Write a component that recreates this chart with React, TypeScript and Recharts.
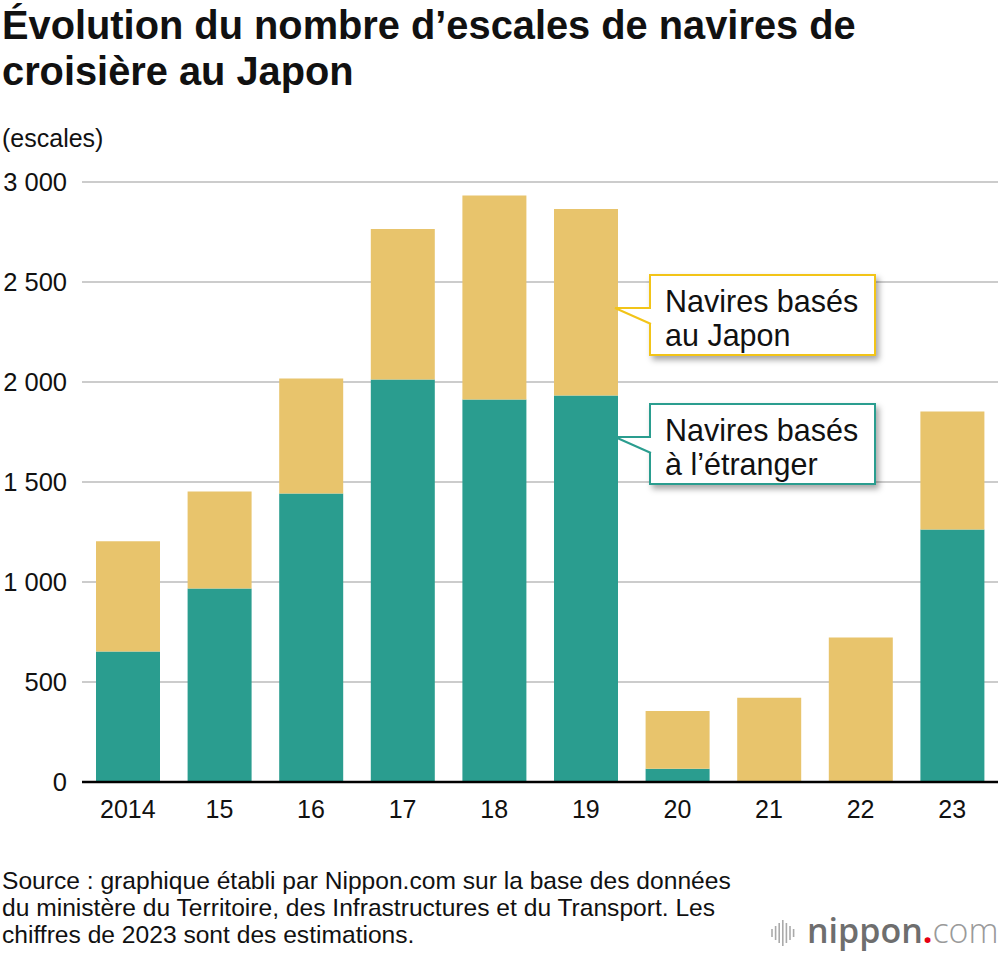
import React from 'react';
import { BarChart, Bar, XAxis, YAxis, CartesianGrid } from 'recharts';

const YEARS = ['2014', '15', '16', '17', '18', '19', '20', '21', '22', '23'];
const FOREIGN_BASED = [653, 967, 1443, 2013, 1913, 1933, 66, 0, 0, 1263];
const JAPAN_BASED = [551, 486, 574, 752, 1019, 932, 289, 421, 723, 590];
const Y_TICKS = [0, 500, 1000, 1500, 2000, 2500, 3000];

const TEAL = '#2a9d8f';
const SAND = '#e8c46c';
const FONT = '"Liberation Sans", Arial, Helvetica, sans-serif';

const data = YEARS.map((year, i) => ({
  year,
  foreign: FOREIGN_BASED[i],
  japan: JAPAN_BASED[i],
}));

const formatThousands = (v: number) => String(v).replace(/\B(?=(\d{3})+(?!\d))/g, ' ');

// callout box with a little pointer on its left side
function Callout({ top, color, lines }: { top: number; color: string; lines: string[] }) {
  return (
    <div style={{ position: 'absolute', left: 614, top, width: 268, height: 86 }}>
      <div
        style={{
          position: 'absolute',
          left: 35,
          top: 0,
          width: 227,
          height: 82,
          border: `2px solid ${color}`,
          background: '#fff',
          boxShadow: '3px 4px 6px rgba(0,0,0,0.35)',
          boxSizing: 'border-box',
          padding: '8px 0 0 14px',
          fontSize: 30.5,
          lineHeight: '34px',
          color: '#111',
          whiteSpace: 'nowrap',
        }}
      >
        {lines.map((l) => (
          <div key={l}>{l}</div>
        ))}
      </div>
      <svg width={40} height={86} style={{ position: 'absolute', left: 0, top: 0 }}>
        <polygon points="1,34 37,34 37,50" fill="#fff" />
        <polyline points="37,34 1,34 37,50" fill="none" stroke={color} strokeWidth={2} />
      </svg>
    </div>
  );
}

function Logo() {
  const waves = [8, 14, 20, 26, 20, 14, 8];
  return (
    <div style={{ position: 'absolute', left: 770, top: 908, width: 230, height: 48 }}>
      <svg width={30} height={48} style={{ position: 'absolute', left: 0, top: 0 }}>
        {waves.map((h, i) => (
          <line key={i} x1={2 + i * 3.6} x2={2 + i * 3.6} y1={25 - h / 2} y2={25 + h / 2} stroke="#aaa" strokeWidth={1.6} />
        ))}
      </svg>
      <div
        style={{
          position: 'absolute',
          left: 37,
          top: 0,
          fontFamily: '"Open Sans", sans-serif',
          fontSize: 34,
          lineHeight: '44px',
          whiteSpace: 'nowrap',
        }}
      >
        <span style={{ color: '#6e6e6e', fontWeight: 600 }}>nippon</span>
        <span style={{ color: '#e60012', fontWeight: 700 }}>.</span>
        <span style={{ color: '#9a9a9a', fontWeight: 300 }}>com</span>
      </div>
    </div>
  );
}

export default function App() {
  return (
    <div
      style={{
        position: 'absolute',
        left: 0,
        top: 0,
        width: 1000,
        height: 956,
        background: '#fff',
        fontFamily: FONT,
        color: '#111',
        overflow: 'hidden',
      }}
    >
      <div
        style={{
          position: 'absolute',
          left: 2,
          top: 2,
          fontSize: 39.8,
          fontWeight: 700,
          lineHeight: '46px',
          width: 995,
          whiteSpace: 'nowrap',
        }}
      >
        Évolution du nombre d’escales de navires de
        <br />
        croisière au Japon
      </div>
      <div style={{ position: 'absolute', left: 2, top: 124, fontSize: 25 }}>(escales)</div>

      <div style={{ position: 'absolute', left: 0, top: 0 }}>
        <BarChart
          width={1000}
          height={860}
          data={data}
          margin={{ top: 182, right: 2, bottom: 28, left: 0 }}
          barSize={64}
        >
          <CartesianGrid vertical={false} stroke="#cccccc" strokeWidth={2} />
          <XAxis
            dataKey="year"
            height={50}
            tickLine={false}
            tickSize={0}
            tickMargin={18}
            axisLine={{ stroke: '#000', strokeWidth: 2.5 }}
            tick={{ fill: '#111', fontSize: 25, fontFamily: FONT }}
          />
          <YAxis
            width={82}
            domain={[0, 3000]}
            ticks={Y_TICKS}
            interval={0}
            axisLine={false}
            tickLine={false}
            tickSize={0}
            tickMargin={15}
            tickFormatter={formatThousands}
            tick={{ fill: '#111', fontSize: 25.5, fontFamily: FONT }}
          />
          <Bar dataKey="foreign" stackId="a" fill={TEAL} isAnimationActive={false} />
          <Bar dataKey="japan" stackId="a" fill={SAND} isAnimationActive={false} />
        </BarChart>
      </div>

      <Callout top={274} color="#f2c418" lines={['Navires basés', 'au Japon']} />
      <Callout top={403} color={TEAL} lines={['Navires basés', 'à l’étranger']} />

      <div
        style={{
          position: 'absolute',
          left: 2,
          top: 867,
          fontSize: 24.6,
          lineHeight: '27px',
          width: 800,
          whiteSpace: 'nowrap',
        }}
      >
        Source : graphique établi par Nippon.com sur la base des données
        <br />
        du ministère du Territoire, des Infrastructures et du Transport. Les
        <br />
        chiffres de 2023 sont des estimations.
      </div>
      <Logo />
    </div>
  );
}
